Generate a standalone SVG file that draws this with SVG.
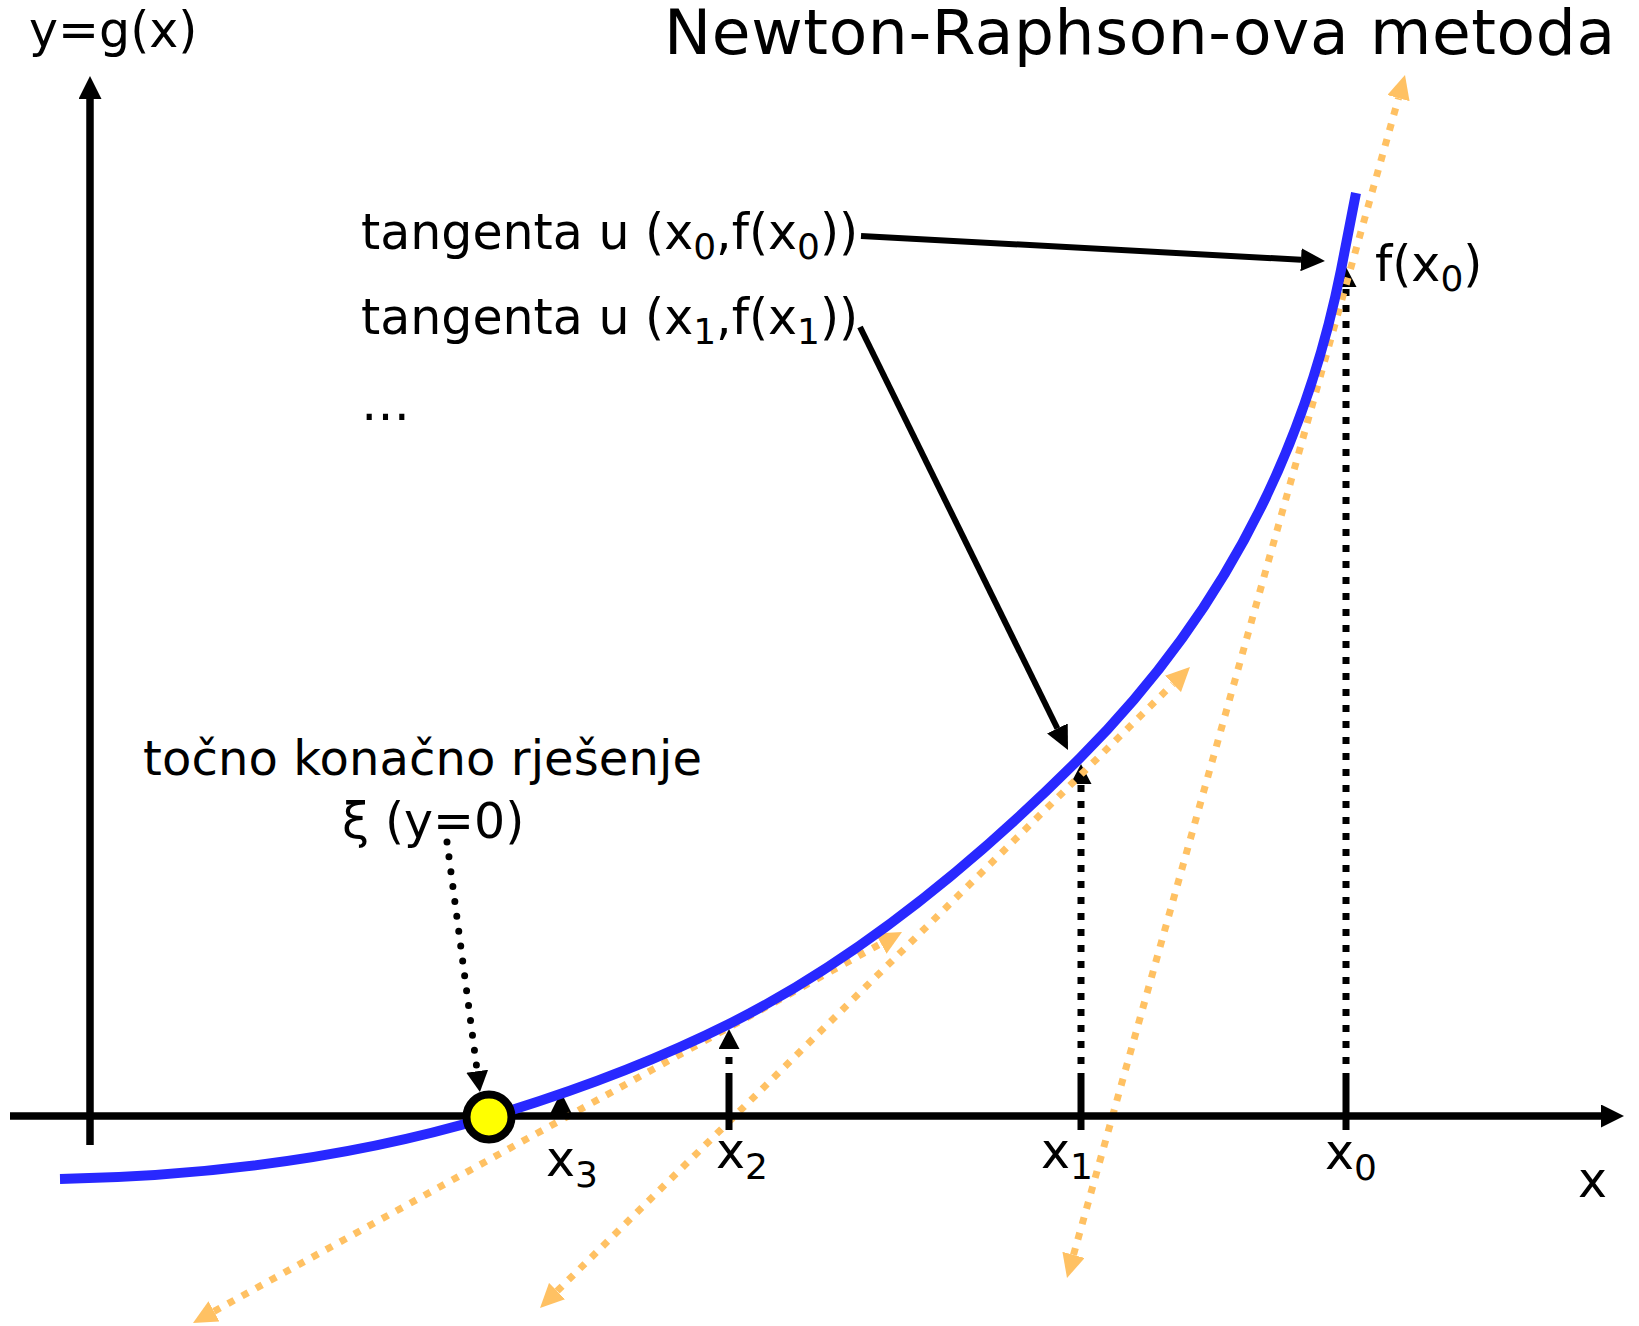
<svg xmlns="http://www.w3.org/2000/svg" width="1639" height="1326" viewBox="0 0 1639 1326">
<style>
  text { font-family: "DejaVu Sans", Verdana, "Liberation Sans", sans-serif; fill: #000; }
  .t { font-size: 49px; }
  .sub { font-size: 36px; }
  .tan { fill: none; stroke: #ffc163; stroke-width: 7; stroke-dasharray: 7 9; }
  .vdot { fill: none; stroke: #000; stroke-width: 7; stroke-dasharray: 7 9; }
  .tick { stroke: #000; stroke-width: 7; }
  .axis { stroke: #000; stroke-width: 7.5; fill: none; }
  .call { stroke: #000; stroke-width: 6; fill: none; }
  .curve { fill: none; stroke: #2828ff; stroke-width: 10; }
</style>
<defs>
  <marker id="ahBlack" markerUnits="userSpaceOnUse" markerWidth="24" markerHeight="23" refX="0" refY="11.5" orient="auto">
    <path d="M0,0 L24,11.5 L0,23 z" fill="#000"/>
  </marker>
  <marker id="ahV" markerUnits="userSpaceOnUse" markerWidth="20" markerHeight="21" refX="0" refY="10.5" orient="auto">
    <path d="M0,0 L20,10.5 L0,21 z" fill="#000"/>
  </marker>
  <marker id="ahAxis" markerUnits="userSpaceOnUse" markerWidth="23" markerHeight="23" refX="0" refY="11.5" orient="auto">
    <path d="M0,0 L23,11.5 L0,23 z" fill="#000"/>
  </marker>
  <marker id="ahOrange" markerUnits="userSpaceOnUse" markerWidth="24" markerHeight="23" refX="0" refY="11.5" orient="auto-start-reverse">
    <path d="M0,0 L24,11.5 L0,23 z" fill="#ffc163"/>
  </marker>
  <marker id="ahC" markerUnits="userSpaceOnUse" markerWidth="21" markerHeight="22" refX="0" refY="11" orient="auto">
    <path d="M0,0 L21,11 L0,22 z" fill="#000"/>
  </marker>
</defs>
<rect width="1639" height="1326" fill="#fff"/>

<g id="projections">
  <line class="vdot" x1="1346" y1="1080" x2="1346" y2="287" marker-end="url(#ahV)"/>
  <line class="vdot" x1="1081" y1="1080" x2="1081" y2="784" marker-end="url(#ahV)"/>
  <line class="vdot" x1="729" y1="1080" x2="729" y2="1049" marker-end="url(#ahV)"/>
  <path d="M561,1092 L550.5,1113 L571.5,1113 z" fill="#000"/>
</g>

<g id="tangents">
  <line class="tan" x1="1073.5" y1="1254.9" x2="1398.5" y2="98.1" marker-start="url(#ahOrange)" marker-end="url(#ahOrange)"/>
  <line class="tan" x1="557.1" y1="1291.1" x2="1172.9" y2="683.9" marker-start="url(#ahOrange)" marker-end="url(#ahOrange)"/>
  <line class="tan" x1="214" y1="1311.4" x2="881" y2="943.6" marker-start="url(#ahOrange)" marker-end="url(#ahOrange)"/>
</g>

<g id="axes">
  <line class="axis" x1="10" y1="1116" x2="1601" y2="1116" marker-end="url(#ahAxis)"/>
  <line class="axis" x1="90" y1="1145" x2="90" y2="99" marker-end="url(#ahAxis)"/>
  <line class="tick" x1="729" y1="1080" x2="729" y2="1130"/>
  <line class="tick" x1="1081" y1="1080" x2="1081" y2="1130"/>
  <line class="tick" x1="1346" y1="1080" x2="1346" y2="1130"/>
</g>

<g id="curve">
  <path class="curve" d="M60,1179 C203,1176.1 346,1159.9 489,1117 C579,1090 659,1059 729,1024 C842.3,967.3 959.3,878.7 1080,758 C1216.2,621.8 1303.2,459.2 1341,270 C1346,245 1351,219 1356,193"/>
</g>

<g id="root">
  <circle cx="489" cy="1117" r="22.5" fill="#ffff00" stroke="#000" stroke-width="8"/>
</g>

<g id="connectors">
  <line class="call" x1="861" y1="236" x2="1301" y2="259.7" marker-end="url(#ahBlack)"/>
  <line class="call" x1="860" y1="327" x2="1057.4" y2="728.5" marker-end="url(#ahBlack)"/>
  <line x1="447" y1="842" x2="477.2" y2="1071.2" stroke="#000" stroke-width="7" stroke-linecap="round" stroke-dasharray="0 15" marker-end="url(#ahC)"/>
</g>

<g id="title">
  <text x="664" y="54" font-size="63" textLength="951">Newton-Raphson-ova metoda</text>
</g>
<g id="ylabel">
  <text class="t" x="29" y="47">y=g(x)</text>
</g>
<g id="label-tangent0">
  <text class="t" x="361" y="249">tangenta u (x<tspan class="sub" dy="10">0</tspan><tspan dy="-10">,f(x</tspan><tspan class="sub" dy="10">0</tspan><tspan dy="-10">))</tspan></text>
</g>
<g id="label-tangent1">
  <text class="t" x="361" y="334">tangenta u (x<tspan class="sub" dy="10">1</tspan><tspan dy="-10">,f(x</tspan><tspan class="sub" dy="10">1</tspan><tspan dy="-10">))</tspan></text>
</g>
<g id="label-dots">
  <text class="t" x="361" y="420">…</text>
</g>
<g id="label-fx0">
  <text class="t" x="1375" y="281">f(x<tspan class="sub" dy="10">0</tspan><tspan dy="-10">)</tspan></text>
</g>
<g id="label-solution">
  <text x="143" y="775" font-size="48" textLength="559">točno konačno rješenje</text>
  <text class="t" x="342" y="838">ξ (y=0)</text>
</g>
<g id="tick-labels">
  <text class="t" x="546" y="1176">x<tspan class="sub" dy="11">3</tspan></text>
  <text class="t" x="716" y="1168">x<tspan class="sub" dy="11">2</tspan></text>
  <text class="t" x="1041" y="1168">x<tspan class="sub" dy="11">1</tspan></text>
  <text class="t" x="1325" y="1169">x<tspan class="sub" dy="11">0</tspan></text>
  <text class="t" x="1578" y="1197">x</text>
</g>
</svg>
